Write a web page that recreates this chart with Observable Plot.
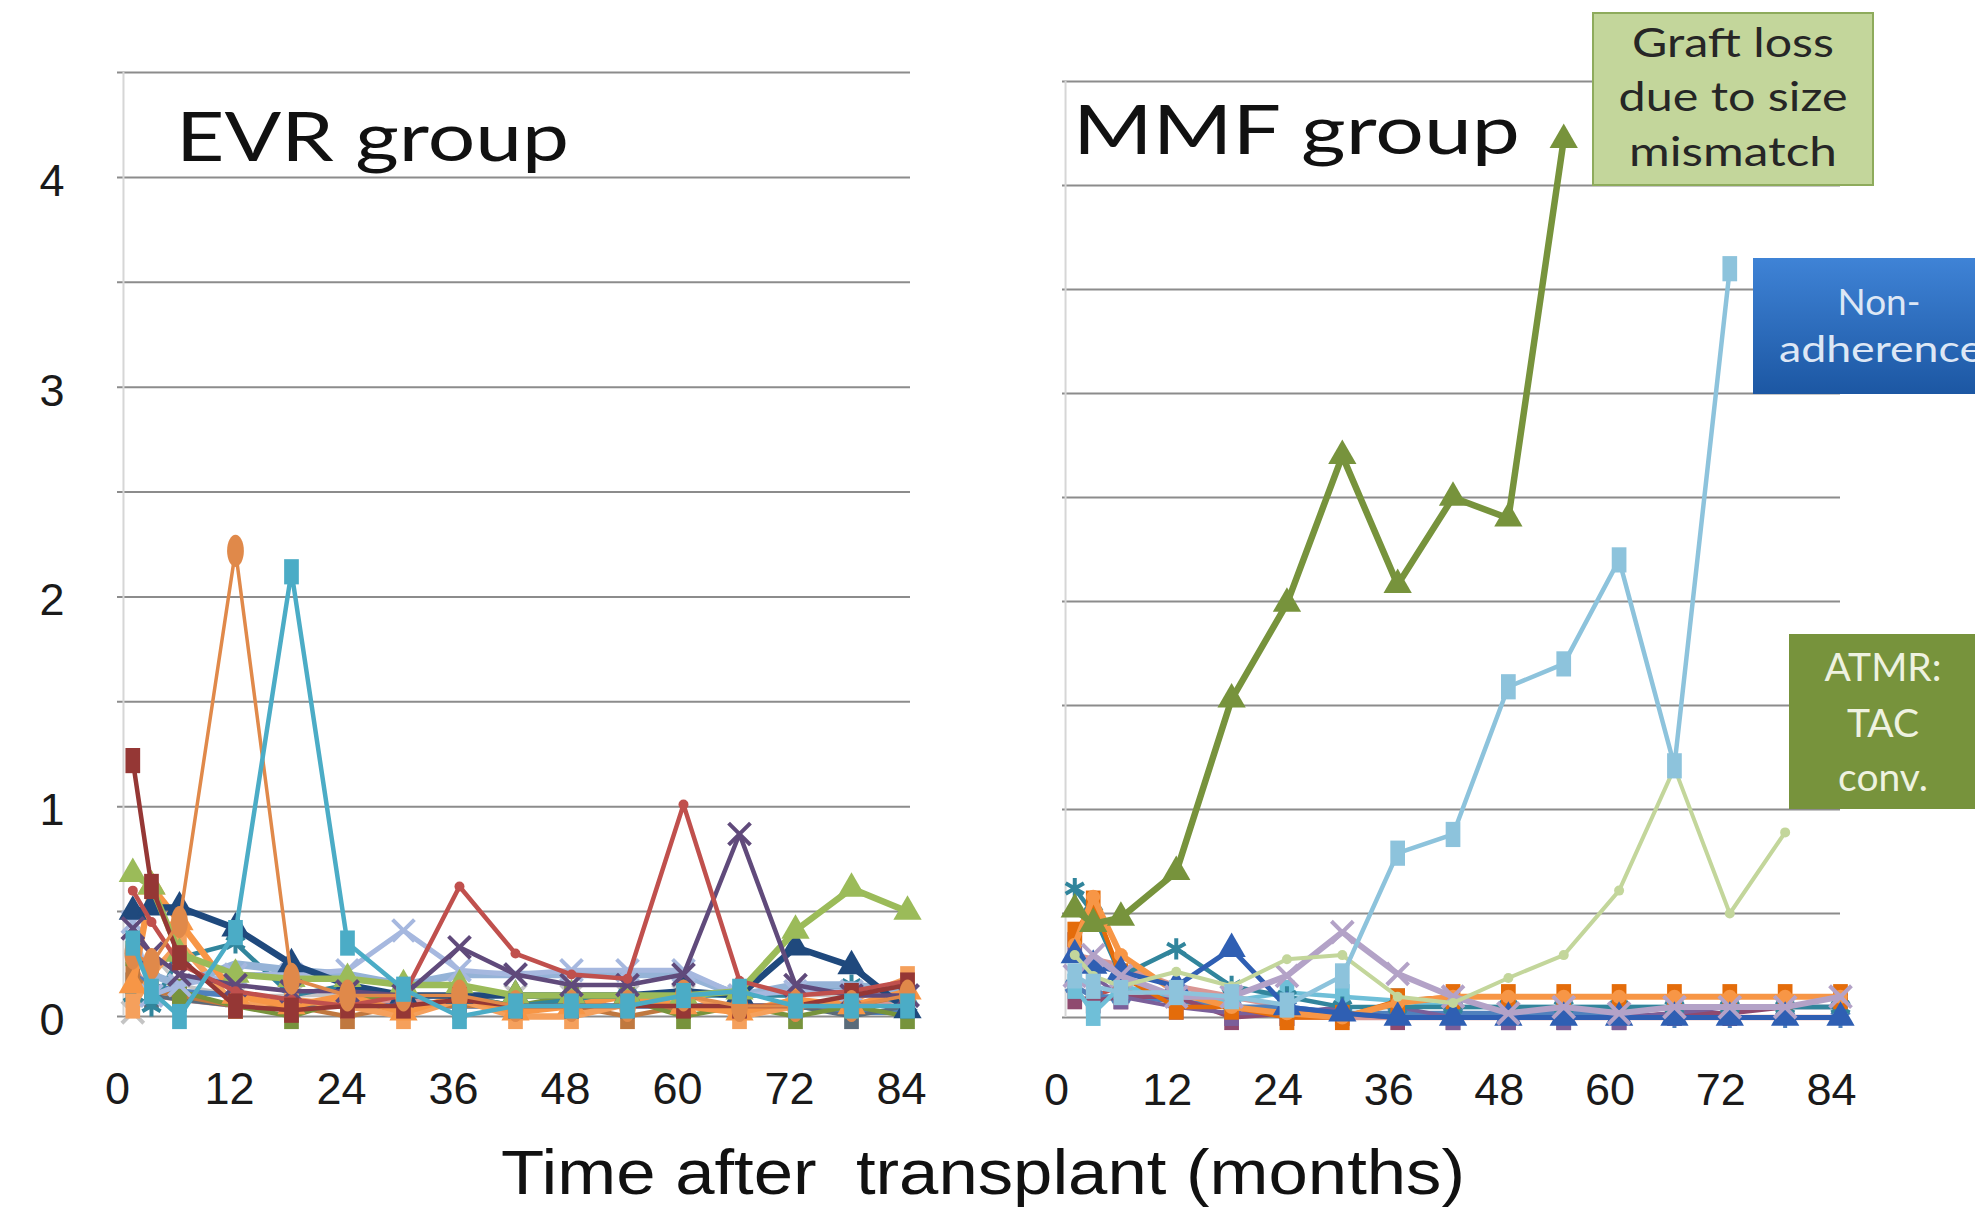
<!DOCTYPE html>
<html><head><meta charset="utf-8">
<script src="https://cdn.jsdelivr.net/npm/d3@7"></script>
<script src="https://cdn.jsdelivr.net/npm/@observablehq/plot@0.6"></script>
<style>
html,body{margin:0;padding:0;background:#fff;}
#wrap{position:relative;width:1975px;height:1215px;overflow:hidden;background:#fff;}
.panel{position:absolute;top:0;}
#overlay{position:absolute;left:0;top:0;}
</style></head><body>
<div id="wrap">
  <div id="left" class="panel" style="left:0px"></div>
  <div id="right" class="panel" style="left:960px"></div>
  <svg id="overlay" width="1975" height="1215" xmlns="http://www.w3.org/2000/svg">
    <defs>
      <linearGradient id="blueGrad" x1="0" y1="0" x2="0" y2="1">
        <stop offset="0" stop-color="#3f83d6"/>
        <stop offset="1" stop-color="#1c57a3"/>
      </linearGradient>
    </defs>
    <text x="176" y="161" font-family="Lato" font-size="68" fill="#111" textLength="393" lengthAdjust="spacingAndGlyphs">EVR group</text>
    <text x="1073" y="154" font-family="Lato" font-size="68" fill="#111" textLength="447" lengthAdjust="spacingAndGlyphs">MMF group</text>
    <text x="501" y="1194" font-family="Liberation Sans" font-size="63" fill="#111" textLength="964" lengthAdjust="spacingAndGlyphs" xml:space="preserve">Time after  transplant (months)</text>

    <rect x="1593" y="13" width="280" height="172" fill="#c3d69b" stroke="#8eab5c" stroke-width="2"/>
    <g font-family="Lato" font-size="40" fill="#262626" text-anchor="middle">
      <text x="1733" y="57" textLength="202" lengthAdjust="spacingAndGlyphs">Graft loss</text>
      <text x="1733" y="111" textLength="229" lengthAdjust="spacingAndGlyphs">due to size</text>
      <text x="1733" y="166" textLength="208" lengthAdjust="spacingAndGlyphs">mismatch</text>
    </g>

    <rect x="1753" y="258" width="240" height="136" fill="url(#blueGrad)"/>
    <g font-family="Lato" font-size="37" fill="#dde7f5" text-anchor="middle">
      <text x="1879" y="315">Non-</text>
      <text x="1881" y="362" textLength="204" lengthAdjust="spacingAndGlyphs">adherence</text>
    </g>

    <rect x="1789" y="634" width="200" height="175" fill="#77933c"/>
    <g font-family="Lato" font-size="39" fill="#eef2e0" text-anchor="middle">
      <text x="1883" y="681">ATMR:</text>
      <text x="1883" y="737">TAC</text>
      <text x="1883" y="791">conv.</text>
    </g>
  </svg>
</div>
<script>
// ---------- shared axes ----------
const months = [1, 3, 6, 12, 18, 24, 30, 36, 42, 48, 54, 60, 66, 72, 78, 84];
const xTickValues = [0, 12, 24, 36, 48, 60, 72, 84];
const yTickValues = [0, 1, 2, 3, 4];
const gridValues = [0, 0.5, 1, 1.5, 2, 2.5, 3, 3.5, 4, 4.5];

// ---------- EVR group (values per month) ----------
const evr01 = [1.22, 0.62, 0.28, 0.05, 0.03, 0.05, 0.05, 0.08, 0.05, 0.05, 0.05, 0.05, 0.05, 0.05, 0.1, 0.15];
const evr02 = [0.3, 0.25, 0.45, 2.22, 0.18, 0.1, 0.1, 0.1, 0.05, 0.05, 0.05, 0.1, 0.05, 0.05, 0.05, 0.1];
const evr03 = [0.35, 0.12, 0, 0.4, 2.12, 0.35, 0.13, 0, 0.05, 0.05, 0.05, 0.1, 0.12, 0.05, 0.05, 0.05];
const evr04 = [0.45, 0.1, 0.15, 0.2, 0.2, 0.22, 0.41, 0.22, 0.2, 0.22, 0.22, 0.22, 0.1, 0.12, 0.12, 0.1];
const evr05 = [0.6, 0.45, 0.25, 0.12, 0.08, 0.05, 0.1, 0.62, 0.3, 0.2, 0.18, 1.01, 0.17, 0.1, 0.12, 0.17];
const evr06 = [0.42, 0.3, 0.2, 0.15, 0.12, 0.12, 0.1, 0.33, 0.2, 0.15, 0.15, 0.2, 0.87, 0.15, 0.1, 0.1];
const evr07 = [0.68, 0.62, 0.3, 0.2, 0.18, 0.18, 0.15, 0.15, 0.1, 0.1, 0.1, 0.1, 0.12, 0.41, 0.61, 0.5];
const evr08 = [0.5, 0.52, 0.52, 0.42, 0.25, 0.15, 0.1, 0.1, 0.1, 0.1, 0.1, 0.12, 0.1, 0.33, 0.24, 0.03];
const evr09 = [0.15, 0.62, 0.45, 0.1, 0.05, 0.1, 0.02, 0.1, 0.02, 0.05, 0.1, 0.05, 0.02, 0.08, 0.05, 0.12];
const evr10 = [0.05, 0.2, 0.35, 0.05, 0.08, 0.05, 0, 0.08, 0, 0, 0.06, 0.12, 0, 0.05, 0.08, 0.18];
const evr11 = [0.3, 0.22, 0.12, 0.05, 0, 0.08, 0.1, 0.1, 0.05, 0.1, 0.08, 0, 0.05, 0, 0.05, 0];
const evr12 = [0.28, 0.2, 0.15, 0.25, 0.22, 0.2, 0.15, 0.2, 0.2, 0.2, 0.2, 0.2, 0.1, 0.15, 0.15, 0.12];
const evr13 = [0.2, 0.15, 0.12, 0.1, 0.05, 0.05, 0.05, 0.05, 0.05, 0.05, 0.05, 0.05, 0.05, 0.05, 0.02, 0.02];
const evr14 = [0.1, 0.05, 0.28, 0.35, 0.1, 0.15, 0.1, 0.1, 0.05, 0.08, 0.1, 0.1, 0.1, 0.1, 0.15, 0.05];
const evr15 = [0.25, 0.1, 0.08, 0.05, 0.05, 0.05, 0.08, 0.05, 0.05, 0.05, 0.05, 0.05, 0.05, 0.05, 0.05, 0.08];
const evr16 = [0.02, 0.3, 0.15, 0.1, 0.1, 0.1, 0.08, 0.1, 0.1, 0.1, 0.1, 0.1, 0.1, 0.1, 0.1, 0.1];
const evr17 = [0.2, 0.12, 0.1, 0.05, 0.05, 0, 0.05, 0.05, 0.05, 0.05, 0, 0.05, 0.05, 0.05, 0.05, 0.1];
const evr18 = [0.15, 0.1, 0.08, 0.05, 0.05, 0.05, 0.05, 0.05, 0.05, 0.05, 0.05, 0.05, 0.05, 0.05, 0, 0.05];

// ---------- MMF group (values per month) ----------
const mmf01 = [0.52, 0.45, 0.48, 0.7, 1.53, 1.99, 2.7, 2.08, 2.5, 2.4, 4.22, null, null, null, null, null];
const mmf02 = [0.2, 0.15, 0.12, 0.12, 0.1, 0.06, 0.2, 0.79, 0.88, 1.59, 1.7, 2.2, 1.21, 3.6, null, null];
const mmf03 = [0.3, 0.2, 0.15, 0.22, 0.15, 0.28, 0.3, 0.1, 0.07, 0.19, 0.3, 0.61, 1.2, 0.5, 0.89, null];
const mmf04 = [0.2, 0.3, 0.2, 0.1, 0.1, 0.2, 0.41, 0.21, 0.1, 0.02, 0.05, 0.02, 0.05, 0.05, 0.05, 0.1];
const mmf05 = [0.3, 0.25, 0.22, 0.15, 0.33, 0.05, 0.02, 0, 0, 0, 0, 0, 0, 0, 0, 0];
const mmf06 = [0.62, 0.5, 0.2, 0.33, 0.15, 0.1, 0.05, 0.05, 0.05, 0.05, 0.05, 0.05, 0.05, 0.05, 0.05, 0.05];
const mmf07 = [0.35, 0.58, 0.3, 0.12, 0.05, 0.02, 0, 0.07, 0.1, 0.1, 0.1, 0.1, 0.1, 0.1, 0.1, 0.1];
const mmf08 = [0.1, 0.08, 0.1, 0.1, 0, 0.02, 0.02, 0, 0, 0, 0, 0, 0.02, 0.02, 0.05, 0.05];
const mmf09 = [0.08, 0.1, 0.15, 0.08, 0.05, 0, 0, 0, 0, 0, 0, 0, 0, 0, 0, 0];
const mmf10 = [0.3, 0.28, 0.25, 0.15, 0.1, 0.05, 0, 0, 0, 0, 0, 0, 0, 0, 0, 0];
const mmf11 = [0.15, 0.1, 0.1, 0.08, 0.05, 0.05, 0.02, 0.02, 0.02, 0.02, 0.02, 0.02, 0, 0, 0, 0];
const mmf12 = [0.15, 0.02, 0.15, 0.1, 0.08, 0.12, 0.1, 0.08, 0.05, 0.05, 0.05, 0.05, 0.05, 0.05, 0.05, 0.05];
const mmf13 = [0.4, 0.55, 0.2, 0.05, 0.05, 0, 0, 0.08, 0.1, 0.1, 0.1, 0.1, 0.1, 0.1, 0.1, 0.1];
const mmf14 = [0.35, 0.2, 0.1, 0.05, 0.02, 0.02, 0.05, 0.05, 0, 0, 0, 0, 0.02, 0.05, 0.05, 0.05];

// ---------- styles (kept apart from values) ----------
// draw order: background first, highlighted series last
const evrSeries = [evr16, evr15, evr13, evr18, evr17, evr11, evr14, evr10, evr12, evr04, evr09, evr08, evr07, evr06, evr05, evr01, evr02, evr03];
const evrColors = ["#c4c4c4", "#d99694", "#4f81bd", "#5a6b7a", "#c0783f", "#77933c", "#31859c", "#f5a05c", "#95b3d7", "#a6b8df", "#f79646", "#1f497d", "#9bbb59", "#604a7b", "#c0504d", "#953735", "#e0894a", "#4bacc6"];
const evrMarkers = ["times", "none", "none", "rect", "rect", "rect", "asterisk", "rect", "none", "times", "triangle", "triangle", "triangle", "times", "dotsmall", "rect", "ellipse", "rect"];
const evrWidths = [3.5, 4.5, 5.5, 4, 4.5, 4.5, 4.5, 6.5, 7.5, 5, 6.5, 6.5, 6.5, 4.5, 4.5, 4.5, 3.5, 4.5];

const mmfSeries = [mmf09, mmf10, mmf11, mmf08, mmf14, mmf12, mmf06, mmf13, mmf07, mmf05, mmf04, mmf03, mmf02, mmf01];
const mmfColors = ["#c0504d", "#d99694", "#4f81bd", "#8f4a6f", "#7a5f9a", "#6fbfd8", "#31859c", "#e46c0a", "#f79646", "#2f5fb3", "#b3a2c7", "#c3d69b", "#8dc3dc", "#77933c"];
const mmfMarkers = ["none", "none", "asterisk", "rect", "rect", "rect", "asterisk", "rect", "dot", "triangle", "times", "dotsmall", "rect", "triangle"];
const mmfWidths = [4, 5.5, 5, 4.5, 4, 4.5, 4.5, 4.5, 6, 5, 6, 4, 4.5, 6.5];

// ---------- marker glyphs ----------
const glyphs = {
  rect: {draw(ctx, size) { const r = Math.sqrt(size / Math.PI); const w = r * 1.05, h = r * 1.8; ctx.rect(-w / 2, -h / 2, w, h); }},
  ellipse: {draw(ctx, size) {
    const r = Math.sqrt(size / Math.PI); const a = r * 0.6, b = r * 1.15, k = 0.5523;
    ctx.moveTo(0, -b);
    ctx.bezierCurveTo(k * a, -b, a, -k * b, a, 0);
    ctx.bezierCurveTo(a, k * b, k * a, b, 0, b);
    ctx.bezierCurveTo(-k * a, b, -a, k * b, -a, 0);
    ctx.bezierCurveTo(-a, -k * b, -k * a, -b, 0, -b);
    ctx.closePath();
  }}
};

function rowsOf(values) {
  return months.map((m, i) => ({month: m, value: values[i]})).filter(d => d.value != null);
}

function seriesMarks(series, colors, markers, widths) {
  const marks = [];
  series.forEach((vals, i) => {
    const rows = rowsOf(vals);
    marks.push(Plot.line(rows, {x: "month", y: "value", stroke: colors[i], strokeWidth: widths[i], strokeLinejoin: "round"}));
    const mk = markers[i];
    if (mk === "none") return;
    if (mk === "rect") marks.push(Plot.dot(rows, {x: "month", y: "value", symbol: glyphs.rect, r: 14, fill: colors[i], stroke: "none"}));
    else if (mk === "ellipse") marks.push(Plot.dot(rows, {x: "month", y: "value", symbol: glyphs.ellipse, r: 14, fill: colors[i], stroke: "none"}));
    else if (mk === "triangle") marks.push(Plot.dot(rows, {x: "month", y: "value", symbol: "triangle", r: 10.5, fill: colors[i], stroke: "none"}));
    else if (mk === "dot") marks.push(Plot.dot(rows, {x: "month", y: "value", symbol: "circle", r: 7, fill: colors[i], stroke: "none"}));
    else if (mk === "dotsmall") marks.push(Plot.dot(rows, {x: "month", y: "value", symbol: "circle", r: 5, fill: colors[i], stroke: "none"}));
    else marks.push(Plot.dot(rows, {x: "month", y: "value", symbol: mk, r: 10, stroke: colors[i], strokeWidth: 4, fill: "none"}));
  });
  return marks;
}

const axisFont = "'Liberation Sans', Arial, sans-serif";

function panel({series, colors, markers, widths, width, height, marginLeft, marginRight, marginTop, marginBottom, xDomain, showY, xdx}) {
  const marks = [
    Plot.ruleY(gridValues, {stroke: "#8c8c8c", strokeWidth: 2}),
    Plot.ruleX([0], {y1: 0, y2: 4.5, stroke: "#d6d6d6", strokeWidth: 2}),
    Plot.axisX(xTickValues, {tickSize: 0, tickPadding: 56, fontSize: 45, dx: xdx, fill: "#1a1a1a", label: null, tickFormat: d => String(d)}),
    ...seriesMarks(series, colors, markers, widths)
  ];
  if (showY) marks.push(Plot.axisY(yTickValues, {tickSize: 0, tickPadding: 53, fontSize: 45, dy: 4, fill: "#1a1a1a", label: null, tickFormat: d => String(d)}));
  else marks.push(Plot.axisY([], {label: null}));
  return Plot.plot({
    width, height, marginLeft, marginRight, marginTop, marginBottom,
    style: {fontFamily: axisFont, background: "transparent", overflow: "visible"},
    x: {domain: xDomain},
    y: {domain: [0, 4.5]},
    marks
  });
}

document.getElementById("left").appendChild(panel({
  series: evrSeries, colors: evrColors, markers: evrMarkers, widths: evrWidths,
  width: 930, height: 1130, marginLeft: 117, marginRight: 20, marginTop: 72, marginBottom: 114,
  xDomain: [-0.64, 84.32], showY: true, xdx: -6
}));
document.getElementById("right").appendChild(panel({
  series: mmfSeries, colors: mmfColors, markers: mmfMarkers, widths: mmfWidths,
  width: 1015, height: 1130, marginLeft: 102, marginRight: 135, marginTop: 81, marginBottom: 113,
  xDomain: [-0.33, 84.0], showY: false, xdx: -9
}));
</script>
</body></html>
